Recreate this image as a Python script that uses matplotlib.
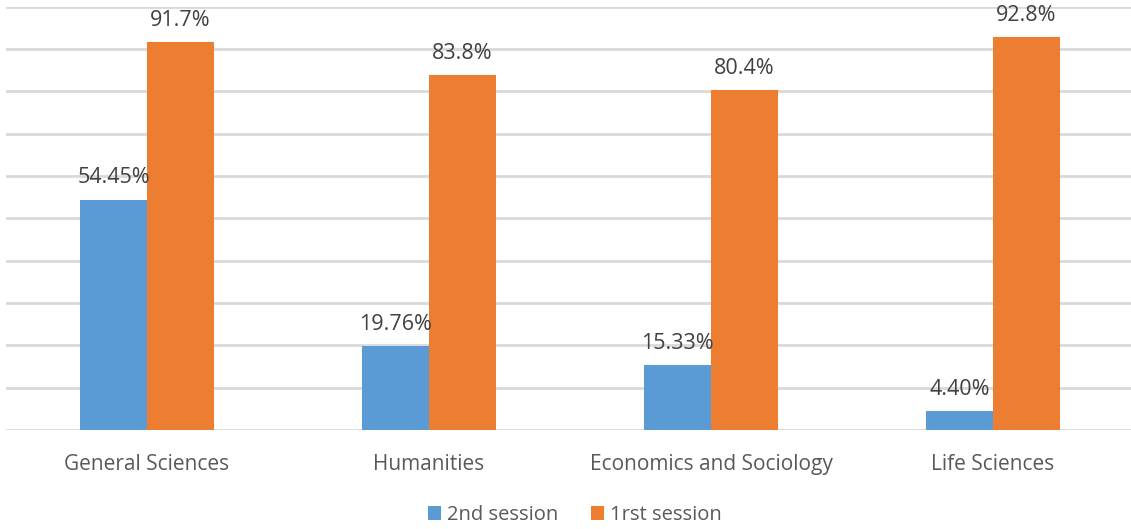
import matplotlib
matplotlib.use("Agg")
import matplotlib.pyplot as plt
import numpy as np

categories = ["General Sciences", "Humanities", "Economics and Sociology", "Life Sciences"]
second_session = [54.45, 19.76, 15.33, 4.40]
first_session = [91.7, 83.8, 80.4, 92.8]
second_labels = ["54.45%", "19.76%", "15.33%", "4.40%"]
first_labels = ["91.7%", "83.8%", "80.4%", "92.8%"]
series_names = ["2nd session", "1rst session"]

BLUE = "#5B9BD5"
ORANGE = "#ED7D31"
GRID = "#D9D9D9"
TEXT = "#595959"
LABEL = "#404040"

plt.rcParams["font.family"] = ["Open Sans", "DejaVu Sans"]

W, H = 1131, 529
fig = plt.figure(figsize=(W / 100, H / 100), dpi=100)
left_px, right_px = 6, 1134
top_px, base_px = 6.7, 430
ax = fig.add_axes([left_px / W, (H - base_px) / H,
                   (right_px - left_px) / W, (base_px - top_px) / H])

x = np.arange(len(categories))
bw = 0.238
b2 = ax.bar(x - bw / 2, second_session, bw, color=BLUE, zorder=3, label=series_names[0])
b1 = ax.bar(x + bw / 2, first_session, bw, color=ORANGE, zorder=3, label=series_names[1])

for bars, texts in ((b2, second_labels), (b1, first_labels)):
    for rect, txt in zip(bars, texts):
        ax.annotate(txt, (rect.get_x() + rect.get_width() / 2, rect.get_height()),
                    xytext=(0, 8), textcoords="offset points", ha="center", va="bottom",
                    fontsize=15.5, color=LABEL)

ax.set_xlim(-0.5, len(categories) - 0.5)
ax.set_ylim(0, 100)
ax.set_yticks(np.arange(0, 101, 10))
ax.yaxis.grid(True, color=GRID, linewidth=2, zorder=0)
ax.set_axisbelow(True)
ax.tick_params(axis="y", left=False, labelleft=False)
ax.tick_params(axis="x", bottom=False, pad=14, labelsize=15, labelcolor=TEXT)
ax.set_xticks(x)
ax.set_xticklabels(categories)
for s in ax.spines.values():
    s.set_visible(False)

fig.legend(handles=[b2, b1], labels=series_names, loc="center",
           bbox_to_anchor=(575 / W, 1 - 515 / H), ncol=2, frameon=False,
           fontsize=14.5, labelcolor=TEXT, handlelength=0.65, handleheight=0.65,
           handletextpad=0.3, columnspacing=1.6)

fig.savefig("out.png", dpi=100)
